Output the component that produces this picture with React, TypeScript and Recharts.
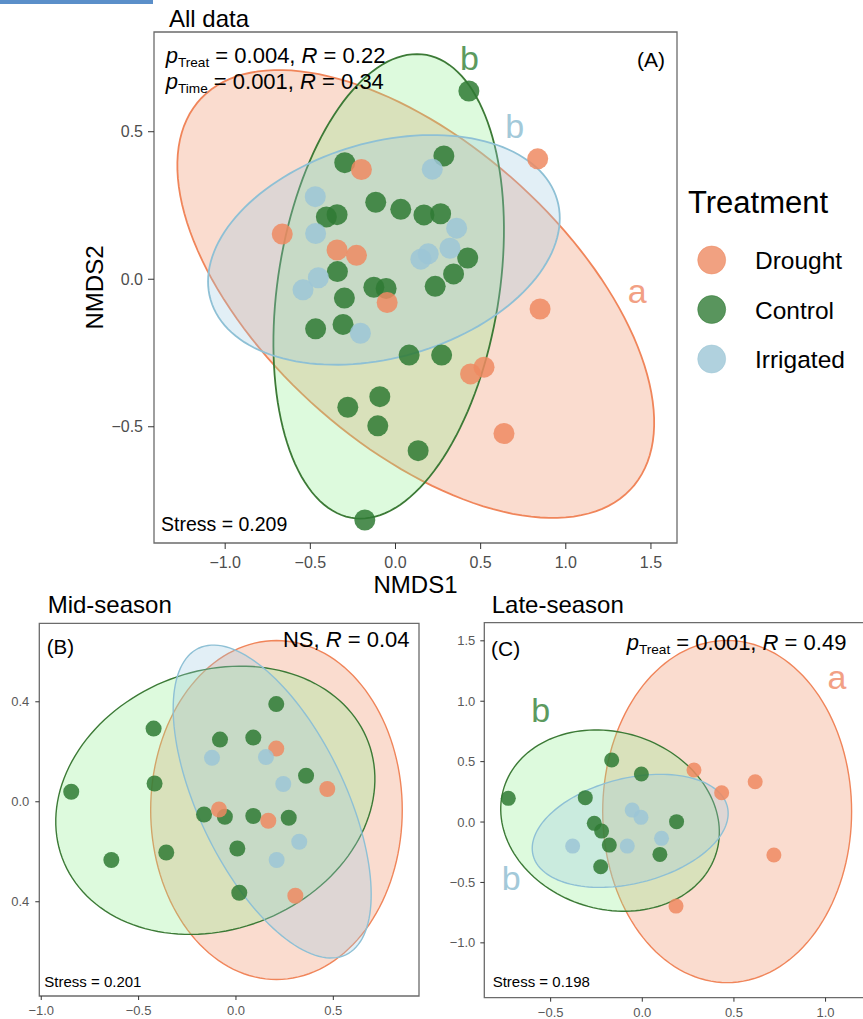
import React from 'react';
import { ScatterChart, Scatter, XAxis, YAxis, ReferenceArea, ReferenceDot } from 'recharts';

const FONT = '"Liberation Sans", Arial, Helvetica, sans-serif';

// ---------- colours ----------
const groups = ['Drought', 'Control', 'Irrigated'];
const pointColors: Record<string, string> = { Drought: '#EE8A62', Control: '#2F7A34', Irrigated: '#9CC5D6' };
const ellipseFill: Record<string, string> = { Drought: '#F08A60', Control: '#90EE90', Irrigated: '#9ECAE1' };
const ellipseStroke: Record<string, string> = { Drought: '#F0855A', Control: '#3C7A36', Irrigated: '#8EC0D5' };
const letterColors: Record<string, string> = { Drought: '#F2A084', Control: '#5C9A5F', Irrigated: '#A3C9D9' };

// ---------- Panel A: All data ----------
const aControl = [
  { x: -0.298, y: 0.395 }, { x: 0.284, y: 0.418 }, { x: -0.116, y: 0.261 }, { x: 0.031, y: 0.237 },
  { x: 0.167, y: 0.218 }, { x: 0.265, y: 0.222 }, { x: -0.406, y: 0.211 }, { x: -0.343, y: 0.219 },
  { x: 0.424, y: 0.072 }, { x: 0.341, y: 0.018 }, { x: 0.233, y: -0.024 }, { x: -0.341, y: 0.026 },
  { x: -0.300, y: -0.064 }, { x: -0.127, y: -0.027 }, { x: -0.055, y: -0.031 }, { x: -0.469, y: -0.168 },
  { x: -0.308, y: -0.153 }, { x: 0.080, y: -0.257 }, { x: 0.271, y: -0.257 }, { x: -0.280, y: -0.434 },
  { x: -0.092, y: -0.398 }, { x: -0.104, y: -0.497 }, { x: 0.133, y: -0.581 }, { x: -0.180, y: -0.816 },
  { x: 0.431, y: 0.638 },
];
const aDrought = [
  { x: -0.200, y: 0.372 }, { x: -0.665, y: 0.153 }, { x: -0.343, y: 0.099 }, { x: -0.229, y: 0.081 },
  { x: -0.049, y: -0.079 }, { x: 0.835, y: 0.408 }, { x: 0.849, y: -0.101 }, { x: 0.441, y: -0.321 },
  { x: 0.520, y: -0.298 }, { x: 0.637, y: -0.523 },
];
const aIrrigated = [
  { x: 0.216, y: 0.373 }, { x: -0.471, y: 0.280 }, { x: -0.469, y: 0.155 }, { x: 0.359, y: 0.173 },
  { x: 0.192, y: 0.086 }, { x: 0.149, y: 0.068 }, { x: 0.320, y: 0.105 }, { x: -0.453, y: 0.005 },
  { x: -0.543, y: -0.036 }, { x: -0.206, y: -0.183 },
];
const aEllipses = [
  { group: 'Drought', cx: 0.119, cy: -0.050, a: 1.480, b: 0.588, angle: -20.7 },
  { group: 'Control', cx: -0.040, cy: -0.024, a: 0.832, b: 0.621, angle: 60.9 },
  { group: 'Irrigated', cx: -0.068, cy: 0.0995, a: 1.039, b: 0.372, angle: 6.8 },
];
const aLetters = [
  { group: 'Control', text: 'b', x: 0.435, y: 0.751 },
  { group: 'Irrigated', text: 'b', x: 0.70, y: 0.519 },
  { group: 'Drought', text: 'a', x: 1.419, y: -0.041 },
];
const aXTicks = [-1.0, -0.5, 0.0, 0.5, 1.0, 1.5];
const aYTicks = [-0.5, 0.0, 0.5];

// ---------- Panel B: Mid-season ----------
const bControl = [
  { x: 0.207, y: 0.391 }, { x: -0.423, y: 0.293 }, { x: -0.082, y: 0.249 }, { x: 0.089, y: 0.257 },
  { x: 0.360, y: 0.104 }, { x: -0.418, y: 0.073 }, { x: -0.846, y: 0.040 }, { x: -0.164, y: -0.051 },
  { x: -0.057, y: -0.060 }, { x: 0.089, y: -0.057 }, { x: 0.271, y: -0.064 }, { x: 0.007, y: -0.187 },
  { x: -0.358, y: -0.203 }, { x: -0.640, y: -0.233 }, { x: 0.017, y: -0.364 },
];
const bDrought = [
  { x: 0.207, y: 0.213 }, { x: 0.469, y: 0.051 }, { x: -0.087, y: -0.031 }, { x: 0.166, y: -0.076 },
  { x: 0.305, y: -0.376 },
];
const bIrrigated = [
  { x: -0.123, y: 0.176 }, { x: 0.154, y: 0.179 }, { x: 0.243, y: 0.071 }, { x: 0.325, y: -0.160 },
  { x: 0.209, y: -0.233 },
];
const bEllipses = [
  { group: 'Drought', cx: 0.208, cy: -0.033, a: 0.646, b: 0.678, angle: 0 },
  { group: 'Control', cx: -0.106, cy: 0.006, a: 0.827, b: 0.525, angle: 10 },
  { group: 'Irrigated', cx: 0.186, cy: 0.001, a: 0.725, b: 0.353, angle: -54.7 },
];
const bXTicks = [-1.0, -0.5, 0.0, 0.5];
const bYTicks = [-0.4, 0.0, 0.4];
const bYTickLabels = ['0.4', '0.0', '0.4'];

// ---------- Panel C: Late-season ----------
const cControl = [
  { x: -0.731, y: 0.196 }, { x: -0.167, y: 0.514 }, { x: -0.005, y: 0.398 }, { x: -0.311, y: 0.202 },
  { x: -0.262, y: -0.011 }, { x: -0.222, y: -0.075 }, { x: -0.180, y: -0.191 }, { x: -0.227, y: -0.370 },
  { x: 0.187, y: 0.003 }, { x: 0.096, y: -0.268 },
];
const cDrought = [
  { x: 0.282, y: 0.431 }, { x: 0.433, y: 0.243 }, { x: 0.616, y: 0.334 }, { x: 0.718, y: -0.273 },
  { x: 0.184, y: -0.696 },
];
const cIrrigated = [
  { x: -0.380, y: -0.199 }, { x: -0.055, y: 0.099 }, { x: -0.007, y: 0.039 }, { x: -0.082, y: -0.199 },
  { x: 0.105, y: -0.135 },
];
const cEllipses = [
  { group: 'Drought', cx: 0.463, cy: 0.087, a: 0.679, b: 1.416, angle: 0 },
  { group: 'Control', cx: -0.176, cy: 0.012, a: 0.760, b: 0.584, angle: -75.6 },
  { group: 'Irrigated', cx: -0.066, cy: -0.073, a: 0.580, b: 0.410, angle: 33.3 },
];
const cLetters = [
  { group: 'Control', text: 'b', x: -0.554, y: 0.925 },
  { group: 'Irrigated', text: 'b', x: -0.715, y: -0.464 },
  { group: 'Drought', text: 'a', x: 1.062, y: 1.200 },
];
const cXTicks = [-0.5, 0.0, 0.5, 1.0];
const cYTicks = [-1.0, -0.5, 0.0, 0.5, 1.0, 1.5];

// ---------- helpers ----------
const fmt = (v: number) => (v < 0 ? '\u2212' : '') + Math.abs(v).toFixed(1);

// outline of a fitted ellipse (center, semi-axes, rotation) as a closed polygon in data units
function ellipseOutline(e: { cx: number; cy: number; a: number; b: number; angle: number }) {
  const th = (e.angle * Math.PI) / 180;
  const pts: { x: number; y: number }[] = [];
  const n = 144;
  for (let i = 0; i <= n; i++) {
    const t = (2 * Math.PI * i) / n;
    pts.push({
      x: e.cx + e.a * Math.cos(t) * Math.cos(th) - e.b * Math.sin(t) * Math.sin(th),
      y: e.cy + e.a * Math.cos(t) * Math.sin(th) + e.b * Math.sin(t) * Math.cos(th),
    });
  }
  return pts;
}

const polygonLine = (fill: string, stroke: string, sw: number) => (lp: any) => {
  const pts = (lp && lp.points) || [];
  const d = pts.map((p: any, i: number) => (i ? 'L' : 'M') + p.x + ',' + p.y).join('') + 'Z';
  return <path d={d} fill={fill} fillOpacity={0.3} stroke={stroke} strokeWidth={sw} strokeOpacity={1} />;
};

const noShape = () => <g />;

const dotShape = (color: string, r: number) => (p: any) => (
  <circle cx={p.cx} cy={p.cy} r={r} fill={color} fillOpacity={0.85} />
);

type PanelProps = {
  left: number; top: number; width: number; height: number;
  margin: { top: number; right: number; bottom: number; left: number };
  yAxisWidth: number; xAxisHeight: number;
  xDomain: [number, number]; yDomain: [number, number];
  xTicks: number[]; yTicks: number[];
  yFmt?: (v: number, i: number) => string;
  tickFont: number; tickColor: string; tickSize: number; xTickMargin: number; yTickMargin: number;
  pointR: number; strokeW: number;
  ellipses: { group: string; cx: number; cy: number; a: number; b: number; angle: number }[];
  points: Record<string, { x: number; y: number }[]>;
  letters: { group: string; text: string; x: number; y: number }[];
};

function Panel(p: PanelProps) {
  return (
    <div style={{ position: 'absolute', left: p.left, top: p.top }}>
      <ScatterChart width={p.width} height={p.height} margin={p.margin}>
        <XAxis
          type="number" dataKey="x" domain={p.xDomain} allowDataOverflow ticks={p.xTicks}
          tickFormatter={(v: number) => fmt(v)} axisLine={false} height={p.xAxisHeight}
          tickSize={p.tickSize} tickMargin={p.xTickMargin} tickLine={{ stroke: '#333333' }}
          tick={{ fill: p.tickColor, fontSize: p.tickFont, fontFamily: FONT }} interval={0}
        />
        <YAxis
          type="number" dataKey="y" domain={p.yDomain} allowDataOverflow ticks={p.yTicks}
          tickFormatter={p.yFmt ? p.yFmt : (v: number) => fmt(v)} axisLine={false} width={p.yAxisWidth}
          tickSize={p.tickSize} tickMargin={p.yTickMargin} tickLine={{ stroke: '#333333' }}
          tick={{ fill: p.tickColor, fontSize: p.tickFont, fontFamily: FONT }} interval={0}
        />
        {p.ellipses.map((e) => (
          <Scatter
            key={'e' + e.group} name={e.group + ' ellipse'} data={ellipseOutline(e)}
            shape={noShape} line={polygonLine(ellipseFill[e.group], ellipseStroke[e.group], p.strokeW)}
            isAnimationActive={false} fill={ellipseStroke[e.group]}
          />
        ))}
        {['Control', 'Drought', 'Irrigated'].map((g) => (
          <Scatter
            key={'p' + g} name={g} data={p.points[g]} shape={dotShape(pointColors[g], p.pointR)}
            fill={pointColors[g]} isAnimationActive={false}
          />
        ))}
        {p.letters.map((l) => (
          <ReferenceDot
            key={'l' + l.group} x={l.x} y={l.y} r={1} fill="none" stroke="none" ifOverflow="visible"
            label={{ value: l.text, position: 'center', fill: letterColors[l.group], fontSize: 34, fontFamily: FONT }}
          />
        ))}
        <ReferenceArea
          x1={p.xDomain[0]} x2={p.xDomain[1]} y1={p.yDomain[0]} y2={p.yDomain[1]}
          fill="none" fillOpacity={0} stroke="#6b6b6b" strokeWidth={1.3} ifOverflow="visible"
        />
      </ScatterChart>
    </div>
  );
}

function PText({ x, y, sub, rest, size, anchor }: { x: number; y: number; sub: string; rest: [string, string, string]; size: number; anchor?: string }) {
  return (
    <text x={x} y={y} fontSize={size} fontFamily={FONT} fill="#000" textAnchor={anchor || 'start'}>
      <tspan fontStyle="italic">p</tspan>
      <tspan fontSize={size * 0.62} dy={4}>{sub}</tspan>
      <tspan dy={-4}>{rest[0]}</tspan>
      <tspan fontStyle="italic">{rest[1]}</tspan>
      <tspan>{rest[2]}</tspan>
    </text>
  );
}

export default function App() {
  return (
    <div style={{ position: 'absolute', left: 0, top: 0, width: 863, height: 1019, overflow: 'hidden', background: '#ffffff', fontFamily: FONT }}>
      <div style={{ position: 'absolute', left: 0, top: 0, width: 153, height: 4, background: '#5B8FC9' }} />
      <Panel
        left={0} top={0} width={863} height={610}
        margin={{ top: 32, right: 186, bottom: 27, left: 0 }}
        yAxisWidth={154} xAxisHeight={40}
        xDomain={[-1.418, 1.653]} yDomain={[-0.894, 0.838]}
        xTicks={aXTicks} yTicks={aYTicks}
        tickFont={16} tickColor="#4d4d4d" tickSize={6} xTickMargin={8} yTickMargin={5}
        pointR={10.5} strokeW={1.8}
        ellipses={aEllipses}
        points={{ Drought: aDrought, Control: aControl, Irrigated: aIrrigated }}
        letters={aLetters}
      />
      <Panel
        left={0} top={580} width={430} height={439}
        margin={{ top: 43.3, right: 11, bottom: 3, left: 0 }}
        yAxisWidth={39.3} xAxisHeight={20}
        xDomain={[-1.010, 0.940]} yDomain={[-0.777, 0.714]}
        xTicks={bXTicks} yTicks={bYTicks}
        yFmt={(v: number) => bYTickLabels[bYTicks.indexOf(v)] ?? fmt(v)}
        tickFont={13} tickColor="#595959" tickSize={4} xTickMargin={6} yTickMargin={6}
        pointR={8} strokeW={1.4}
        ellipses={bEllipses}
        points={{ Drought: bDrought, Control: bControl, Irrigated: bIrrigated }}
        letters={[]}
      />
      <Panel
        left={430} top={580} width={441} height={439}
        margin={{ top: 42.7, right: 1.8, bottom: 1.3, left: 0 }}
        yAxisWidth={54.3} xAxisHeight={20}
        xDomain={[-0.862, 1.238]} yDomain={[-1.454, 1.65]}
        xTicks={cXTicks} yTicks={cYTicks}
        tickFont={13} tickColor="#595959" tickSize={4} xTickMargin={6} yTickMargin={5}
        pointR={7.5} strokeW={1.4}
        ellipses={cEllipses}
        points={{ Drought: cDrought, Control: cControl, Irrigated: cIrrigated }}
        letters={cLetters}
      />
      <svg width={863} height={1019} style={{ position: 'absolute', left: 0, top: 0, pointerEvents: 'none' }}>
        {/* Panel A texts */}
        <text x={169} y={27} fontSize={24} fontFamily={FONT} fill="#000">All data</text>
        <PText x={165.7} y={62.7} sub="Treat" rest={[' = 0.004, ', 'R', ' = 0.22']} size={22} />
        <PText x={165.7} y={89.3} sub="Time" rest={[' = 0.001, ', 'R', ' = 0.34']} size={22} />
        <text x={665} y={66.7} fontSize={21} fontFamily={FONT} fill="#000" textAnchor="end">(A)</text>
        <text x={161} y={530.7} fontSize={19.5} fontFamily={FONT} fill="#000">Stress = 0.209</text>
        <text x={415.5} y={593} fontSize={24} fontFamily={FONT} fill="#000" textAnchor="middle">NMDS1</text>
        <text x={103.3} y={287.5} fontSize={24} fontFamily={FONT} fill="#000" textAnchor="middle" transform="rotate(-90 103.3 287.5)">NMDS2</text>
        {/* Legend */}
        <text x={688} y={213.3} fontSize={31} fontFamily={FONT} fill="#000">Treatment</text>
        {groups.map((g, i) => (
          <g key={g}>
            <circle cx={711.7} cy={260 + i * 49.5} r={14} fill={pointColors[g]} fillOpacity={0.8} stroke={pointColors[g]} strokeOpacity={0.5} strokeWidth={1} />
            <text x={755} y={269.3 + i * 49.3} fontSize={24.5} fontFamily={FONT} fill="#000">{g}</text>
          </g>
        ))}
        {/* Panel B texts */}
        <text x={47.7} y={613.3} fontSize={24} fontFamily={FONT} fill="#000">Mid-season</text>
        <text x={46.7} y={654} fontSize={20.5} fontFamily={FONT} fill="#000">(B)</text>
        <text x={409.5} y={646.7} fontSize={22} fontFamily={FONT} fill="#000" textAnchor="end">
          <tspan>NS, </tspan><tspan fontStyle="italic">R</tspan><tspan> = 0.04</tspan>
        </text>
        <text x={44.3} y={987.3} fontSize={15} fontFamily={FONT} fill="#000">Stress = 0.201</text>
        {/* Panel C texts */}
        <text x={491.7} y={613.3} fontSize={24} fontFamily={FONT} fill="#000">Late-season</text>
        <text x={491} y={656} fontSize={21} fontFamily={FONT} fill="#000">(C)</text>
        <PText x={626.7} y={650} sub="Treat" rest={['  = 0.001, ', 'R', ' = 0.49']} size={22} />
        <text x={492.7} y={987.3} fontSize={15} fontFamily={FONT} fill="#000">Stress = 0.198</text>
      </svg>
    </div>
  );
}
